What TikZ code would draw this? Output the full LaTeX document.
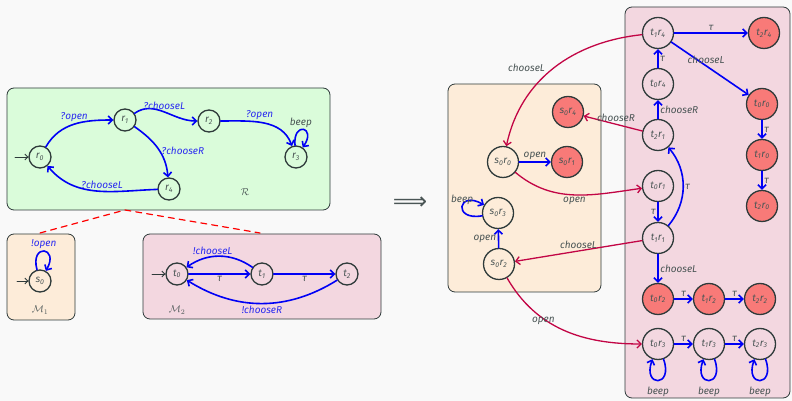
\documentclass[tikz,border=0pt]{standalone}
\usepackage{fontspec}
\setmainfont{Fira Sans}
\newfontfamily\symfont{DejaVu Sans}
\usetikzlibrary{arrows.meta}
\definecolor{bgcol}{HTML}{F9F9F9}
\definecolor{nodecol}{HTML}{2E3A3A}
\definecolor{txtcol}{HTML}{4A5555}
\definecolor{greenbox}{HTML}{DAFCDA}
\definecolor{orangebox}{HTML}{FDECD9}
\definecolor{pinkbox}{HTML}{F3D7E0}
\definecolor{badred}{HTML}{F87A78}
\definecolor{crim}{HTML}{C20545}
\definecolor{trblue}{HTML}{0000F5}
\definecolor{lblblue}{HTML}{2B2BF0}
\newcommand{\ix}[2]{#1\textsubscript{#2}}

\begin{document}
\begin{tikzpicture}[x=1pt,y=1pt,line cap=round,line join=round,
  st/.style={circle,draw=nodecol,line width=1.3pt,minimum size=22pt,inner sep=0pt,text=txtcol,font=\itshape\fontsize{10}{11}\selectfont},
  pst/.style={st,minimum size=31pt},
  bad/.style={fill=badred},
  tr/.style={-{Straight Barb[length=4pt,width=8pt]},trblue,line width=1.6pt},
  cr/.style={-{Straight Barb[length=4pt,width=8pt]},crim,line width=1.3pt},
  init/.style={-{Straight Barb[length=3pt,width=6pt]},nodecol,line width=0.8pt},
  lbl/.style={font=\itshape\fontsize{10}{11}\selectfont,text=txtcol,inner sep=1.5pt},
  blbl/.style={font=\itshape\fontsize{10}{11}\selectfont,text=lblblue,inner sep=1.5pt},
  box/.style={rounded corners=7pt,draw=nodecol,line width=0.8pt}]
\fill[bgcol] (0,0) rectangle (792,401);
\draw[box,fill=greenbox] (7,191) rectangle (330,313);
\draw[box,fill=orangebox] (7,81) rectangle (75,167);
\draw[box,fill=pinkbox] (143,82) rectangle (381,167);
\draw[box,fill=orangebox] (448,109) rectangle (601,317);
\draw[box,fill=pinkbox] (625,3) rectangle (790,394);
\draw[red,dashed,dash pattern=on 6pt off 5pt,line width=1.2pt] (40,168) -- (125,191) -- (260,168);
\node[text=txtcol,font=\symfont\fontsize{24}{26}\selectfont,inner sep=0pt] (impl) at (410,198) {⟹};

\node[st] (r0) at (40,244) {\ix{r}{0}};
\node[st] (r1) at (125,281) {\ix{r}{1}};
\node[st] (r2) at (209,280) {\ix{r}{2}};
\node[st] (r3) at (296,244) {\ix{r}{3}};
\node[st] (r4) at (169,212) {\ix{r}{4}};
\node[text=txtcol] (lR) at (245,209) {$\mathcal{R}$};
\coordinate (r0in) at (15,244);
\draw[init] (r0in) -- (r0);
\draw[tr] (r0) to[out=60,in=180] node[blbl,above,pos=0.5]{?open} (r1);
\draw[tr] (r1) to[out=35,in=180] node[blbl,above,pos=0.5]{?chooseL} (r2);
\draw[tr] (r1) to[out=-35,in=95] node[blbl,right,pos=0.55]{?chooseR} (r4);
\draw[tr] (r4) to[out=182,in=-50] node[blbl,above,pos=0.45]{?chooseL} (r0);
\draw[tr] (r2) to[out=0,in=110] node[blbl,above,pos=0.45]{?open} (r3);
\draw[tr] (r3) to[out=95,in=55,looseness=8] node[lbl,above,pos=0.4]{beep} (r3);

\node[st] (s0) at (40,120) {\ix{s}{0}};
\node[text=txtcol] (lM1) at (40,91) {$\mathcal{M}_1$};
\coordinate (s0in) at (17,120);
\draw[init] (s0in) -- (s0);
\draw[tr] (s0) to[out=105,in=60,looseness=8] node[blbl,above,pos=0.5]{!open} (s0);

\node[st] (t0) at (177,127) {\ix{t}{0}};
\node[st] (t1) at (262,127) {\ix{t}{1}};
\node[st] (t2) at (347,127) {\ix{t}{2}};
\node[text=txtcol] (lM2) at (177,91) {$\mathcal{M}_2$};
\coordinate (t0in) at (152,127);
\draw[init] (t0in) -- (t0);
\draw[tr] (t0) -- node[lbl,below]{τ} (t1);
\draw[tr] (t1) -- node[lbl,below]{τ} (t2);
\draw[tr] (t1) to[bend right=35] node[blbl,above,pos=0.6]{!chooseL} (t0);
\draw[tr] (t2) to[bend left=32] node[blbl,below,pos=0.5]{!chooseR} (t0);

\node[pst,bad] (s0r4) at (568,289) {\ix{s}{0}\ix{r}{4}};
\node[pst] (s0r0) at (503,239) {\ix{s}{0}\ix{r}{0}};
\node[pst,bad] (s0r1) at (567,239) {\ix{s}{0}\ix{r}{1}};
\node[pst] (s0r3) at (498,188) {\ix{s}{0}\ix{r}{3}};
\node[pst] (s0r2) at (499,137) {\ix{s}{0}\ix{r}{2}};

\node[pst] (t1r4) at (658,368) {\ix{t}{1}\ix{r}{4}};
\node[pst,bad] (t2r4) at (764,368) {\ix{t}{2}\ix{r}{4}};
\node[pst] (t0r4) at (658,317) {\ix{t}{0}\ix{r}{4}};
\node[pst] (t2r1) at (658,266) {\ix{t}{2}\ix{r}{1}};
\node[pst] (t0r1) at (658,215) {\ix{t}{0}\ix{r}{1}};
\node[pst] (t1r1) at (658,163) {\ix{t}{1}\ix{r}{1}};
\node[pst,bad] (t0r0) at (762,297) {\ix{t}{0}\ix{r}{0}};
\node[pst,bad] (t1r0) at (762,246) {\ix{t}{1}\ix{r}{0}};
\node[pst,bad] (t2r0) at (762,195) {\ix{t}{2}\ix{r}{0}};
\node[pst,bad] (t0r2) at (658,102) {\ix{t}{0}\ix{r}{2}};
\node[pst,bad] (t1r2) at (709,102) {\ix{t}{1}\ix{r}{2}};
\node[pst,bad] (t2r2) at (760,102) {\ix{t}{2}\ix{r}{2}};
\node[pst] (t0r3) at (658,57) {\ix{t}{0}\ix{r}{3}};
\node[pst] (t1r3) at (709,57) {\ix{t}{1}\ix{r}{3}};
\node[pst] (t2r3) at (760,57) {\ix{t}{2}\ix{r}{3}};

\draw[tr] (s0r0) -- node[lbl,above]{open} (s0r1);
\draw[tr] (s0r2) -- node[lbl,left]{open} (s0r3);
\draw[tr] (s0r3) to[out=190,in=150,looseness=7] node[lbl,above,pos=0.5]{beep} (s0r3);

\draw[cr] (t1r4) to[out=186,in=78] node[lbl,above left,pos=0.55]{chooseL} (s0r0);
\draw[cr] (t2r1) -- node[lbl,above,pos=0.45]{chooseR} (s0r4);
\draw[cr] (s0r0) to[out=-40,in=188] node[lbl,below,pos=0.5]{open} (t0r1);
\draw[cr] (t1r1) -- node[lbl,above,pos=0.5]{chooseL} (s0r2);
\draw[cr] (s0r2) to[out=-60,in=180] node[lbl,above left,pos=0.45]{open} (t0r3);

\draw[tr] (t1r4) -- node[lbl,above]{τ} (t2r4);
\draw[tr] (t1r4) -- node[lbl,above,pos=0.45]{chooseL} (t0r0);
\draw[tr] (t0r4) -- node[lbl,right]{τ} (t1r4);
\draw[tr] (t2r1) -- node[lbl,right]{chooseR} (t0r4);
\draw[tr] (t0r1) -- node[lbl,left]{τ} (t1r1);
\draw[tr] (t1r1) to[out=50,in=-50] node[lbl,right]{τ} (t2r1);
\draw[tr] (t1r1) -- node[lbl,right]{chooseL} (t0r2);
\draw[tr] (t0r0) -- node[lbl,right]{τ} (t1r0);
\draw[tr] (t1r0) -- node[lbl,right]{τ} (t2r0);
\draw[tr] (t0r2) -- node[lbl,above]{τ} (t1r2);
\draw[tr] (t1r2) -- node[lbl,above]{τ} (t2r2);
\draw[tr] (t0r3) -- node[lbl,above]{τ} (t1r3);
\draw[tr] (t1r3) -- node[lbl,above]{τ} (t2r3);
\draw[tr] (t0r3) to[out=-70,in=-110,looseness=7] node[lbl,below=4pt]{beep} (t0r3);
\draw[tr] (t1r3) to[out=-70,in=-110,looseness=7] node[lbl,below=4pt]{beep} (t1r3);
\draw[tr] (t2r3) to[out=-70,in=-110,looseness=7] node[lbl,below=4pt]{beep} (t2r3);
\end{tikzpicture}
\end{document}
